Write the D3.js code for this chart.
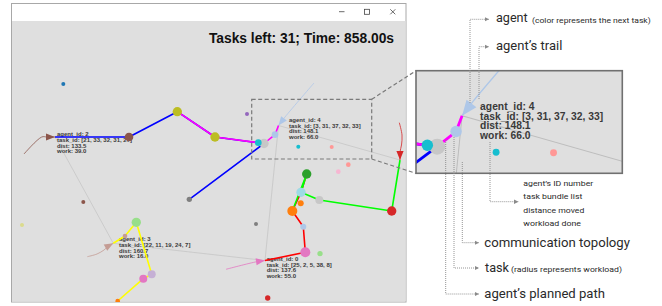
<!DOCTYPE html>
<html>
<head>
<meta charset="utf-8">
<script src="https://cdnjs.cloudflare.com/ajax/libs/d3/7.8.5/d3.min.js"></script>
<style>
  body { margin: 0; background: #fff; }
  svg { display: block; }
</style>
</head>
<body>
<svg id="svg" width="662" height="306"></svg>
<script>
(function() {
  'use strict';

  // ---- data (world units of the simulation area) ----
  var titleText = 'Tasks left: 31; Time: 858.00s';

  // tasks: position, workload, colour
  var taskX = [52.3, 236, 166.3, 204, 118, 253, 247.3, 264, 287.3, 320.7, 178.3, 295.7, 290, 308.3, 380.7, 289.7,
               281.3, 292.3, 294.3, 309, 327.3, 337.3, 245, 72.3, 11, 125.3, 114, 140.7, 132.3, 106.7, 256.7];
  var taskY = [63, 93, 90.7, 116, 116, 122.5, 121.7, 113.7, 125.7, 126, 178.3, 153, 171.3, 179, 190, 182.3,
               190, 205.7, 231.3, 232.7, 150.7, 143.7, 203, 181, 204, 201.3, 215, 253.3, 257.7, 280, 277];
  var taskWork = [1, 1, 9, 9, 8, 9, 5, 5, 1, 1, 3, 9, 9, 7, 9, 4, 10, 4, 10, 3, 2, 2, 1, 1, 1, 9, 2, 7, 7, 2, 3];
  var taskColor = ['#1f77b4', '#9467bd', '#bcbd22', '#bcbd22', '#8c564b', '#c7c7c7', '#17becf', '#aec7e8',
                   '#17becf', '#ff9896', '#7f7f7f', '#2ca02c', '#9edae5', '#c7c7c7', '#d62728', '#ff7f0e',
                   '#ff7f0e', '#aec7e8', '#e377c2', '#98df8a', '#f7b6d2', '#ff9896', '#7f7f7f', '#8c564b',
                   '#dbdb8d', '#98df8a', '#c49c94', '#c5b0d5', '#e377c2', '#ff7f0e', '#d62728'];

  // agents
  var agentIds = [0, 1, 2, 3, 4];
  var agentX = [254, 389, 44, 102.3, 267.5];
  var agentY = [239.5, 139, 116, 222.3, 104.5];
  var agentColor = ['#e377c2', '#d62728', '#8c564b', '#c49c94', '#aec7e8'];
  var pathColor = ['#ff0000', '#00ff00', '#0000ff', '#ffff00', '#ff00ff'];
  var agentTrails = [
    [[215, 248.3], [245.7, 240.7]],
    [[388.3, 101.7], [391, 114], [390.5, 124], [389, 131]],
    [[13, 133], [30.7, 116], [36, 116]],
    [[76.3, 235.7], [86, 233], [93, 229], [97.5, 225]],
    [[303, 62], [274, 96]]
  ];
  var agentPlans = [
    [18, 17, 16, 12, 11],
    [14, 13, 12, 11, 16],
    [4, 2, 3, 5, 10],
    [26, 25, 27, 28, 29],
    [7, 5, 6, 3, 2]
  ];
  var agentLabels = [
    ['agent_id: 0', 'task_id: [25, 2, 5, 38, 8]', 'dist: 137.6', 'work: 55.0'],
    null,
    ['agent_id: 2', 'task_id: [21, 33, 32, 31, 27]', 'dist: 133.5', 'work: 39.0'],
    ['agent_id: 3', 'task_id: [22, 11, 19, 24, 7]', 'dist: 160.7', 'work: 16.0'],
    ['agent_id: 4', 'task_id: [3, 31, 37, 32, 33]', 'dist: 148.1', 'work: 66.0']
  ];
  var labelX = [255.7, 0, 46, 108, 278];
  var labelY = [240.1, 0, 115.4, 220.4, 101.1];
  var commLinks = [[2, 3], [3, 0], [0, 4], [4, 1]];

  // zoomed region (world units)
  var zoomBox = [240.7, 78.3, 120, 59.7];

  // ---- layout ----
  var svg = d3.select('#svg');
  var defs = svg.append('defs');

  var x = d3.scaleLinear().domain([0, 395]).range([11, 406]);
  var y = d3.scaleLinear().domain([0, 281]).range([21, 302]);
  var r = d3.scaleLinear().domain([1, 10]).range([2, 5]);

  var line = d3.line()
    .x(function(d) { return x(d[0]); })
    .y(function(d) { return y(d[1]); });
  var trailLine = d3.line()
    .curve(d3.curveCatmullRom)
    .x(function(d) { return x(d[0]); })
    .y(function(d) { return y(d[1]); });

  defs.append('clipPath').attr('id', 'simClip')
    .append('rect').attr('x', 11).attr('y', 21).attr('width', 395).attr('height', 281);

  var inset = { x: 416, y: 70.7, w: 206.3, h: 102.6 };
  defs.append('clipPath').attr('id', 'insetClip')
    .append('rect').attr('x', inset.x).attr('y', inset.y).attr('width', inset.w).attr('height', inset.h);

  defs.append('marker')
    .attr('id', 'ptr')
    .attr('viewBox', '0 0 6 6')
    .attr('refX', 6).attr('refY', 3)
    .attr('markerUnits', 'userSpaceOnUse')
    .attr('markerWidth', 4.5).attr('markerHeight', 4.5)
    .attr('orient', 'auto')
    .append('path').attr('d', 'M0,0L6,3L0,6Z').attr('fill', '#8a8a8a');

  // box: only agent labels anchored inside it are written (null = all)
  function drawScene(g, box) {
    // communication topology
    g.selectAll('line.comm').data(commLinks).enter().append('line')
      .attr('class', 'comm')
      .attr('x1', function(d) { return x(agentX[d[0]]); })
      .attr('y1', function(d) { return y(agentY[d[0]]); })
      .attr('x2', function(d) { return x(agentX[d[1]]); })
      .attr('y2', function(d) { return y(agentY[d[1]]); })
      .attr('stroke', '#bdbdbd')
      .attr('stroke-width', 0.6);

    // trails
    g.selectAll('path.trail').data(agentIds).enter().append('path')
      .attr('class', 'trail')
      .attr('d', function(i) { return trailLine(agentTrails[i].concat([[agentX[i], agentY[i]]])); })
      .attr('fill', 'none')
      .attr('stroke', function(i) { return agentColor[i]; })
      .attr('stroke-width', 0.8);

    // agent text
    agentIds.forEach(function(i) {
      if (!agentLabels[i]) return;
      if (box && (labelX[i] < box[0] || labelX[i] > box[0] + box[2] ||
                  labelY[i] < box[1] || labelY[i] > box[1] + box[3])) return;
      var t = g.append('text')
        .attr('x', x(labelX[i]))
        .attr('y', y(labelY[i]))
        .attr('font-family', 'Liberation Sans, Arial, sans-serif')
        .attr('font-weight', 'bold')
        .attr('font-size', 6)
        .attr('fill', '#3a3a3a');
      t.selectAll('tspan').data(agentLabels[i]).enter().append('tspan')
        .attr('x', x(labelX[i]))
        .attr('dy', function(d, j) { return j ? 5.67 : 0; })
        .text(function(d) { return d; });
    });

    // planned paths
    g.selectAll('path.plan').data(agentIds).enter().append('path')
      .attr('class', 'plan')
      .attr('d', function(i) {
        var pts = [[agentX[i], agentY[i]]].concat(agentPlans[i].map(function(t) { return [taskX[t], taskY[t]]; }));
        return line(pts);
      })
      .attr('fill', 'none')
      .attr('stroke', function(i) { return pathColor[i]; })
      .attr('stroke-width', 1.6)
      .attr('stroke-linejoin', 'round');

    // tasks
    g.selectAll('circle.task').data(taskX).enter().append('circle')
      .attr('class', 'task')
      .attr('cx', function(d) { return x(d); })
      .attr('cy', function(d, i) { return y(taskY[i]); })
      .attr('r', function(d, i) { return r(taskWork[i]); })
      .attr('fill', function(d, i) { return taskColor[i]; });

    // agents as arrow heads
    g.selectAll('path.agent').data(agentIds).enter().append('path')
      .attr('class', 'agent')
      .attr('d', 'M0,0L-9,-3.6L-9,3.6Z')
      .attr('transform', function(i) {
        var tr = agentTrails[i];
        var p = tr[tr.length - 1];
        var a = Math.atan2(y(agentY[i]) - y(p[1]), x(agentX[i]) - x(p[0])) * 180 / Math.PI;
        return 'translate(' + x(agentX[i]) + ',' + y(agentY[i]) + ') rotate(' + a + ')';
      })
      .attr('fill', function(i) { return agentColor[i]; });
  }

  // window frame
  svg.append('rect')
    .attr('x', 11.5).attr('y', 3.5).attr('width', 394.5).attr('height', 298.5)
    .attr('fill', '#fff').attr('stroke', '#a8a8a8').attr('stroke-width', 1);
  svg.append('rect')
    .attr('x', 12).attr('y', 21).attr('width', 393.5).attr('height', 280.5)
    .attr('fill', '#dfdfdf');

  // title bar buttons
  var btn = svg.append('g').attr('stroke', '#444').attr('stroke-width', 0.8).attr('fill', 'none');
  btn.append('line').attr('x1', 339).attr('y1', 11.7).attr('x2', 344.5).attr('y2', 11.7);
  btn.append('rect').attr('x', 364.5).attr('y', 9.3).attr('width', 5).attr('height', 5);
  btn.append('path').attr('d', 'M390.3,9.3L395.3,14.3M395.3,9.3L390.3,14.3');

  var sim = svg.append('g').attr('clip-path', 'url(#simClip)');
  drawScene(sim, null);

  svg.append('text')
    .attr('x', 394).attr('y', 43)
    .attr('text-anchor', 'end')
    .attr('font-family', 'Liberation Sans, Arial, sans-serif')
    .attr('font-weight', 'bold')
    .attr('font-size', 13.8)
    .attr('fill', '#111')
    .text(titleText);

  // dashed zoom region + connectors
  var zx0 = x(zoomBox[0]), zy0 = y(zoomBox[1]);
  var zx1 = x(zoomBox[0] + zoomBox[2]), zy1 = y(zoomBox[1] + zoomBox[3]);
  var dash = svg.append('g')
    .attr('stroke', '#7a7a7a').attr('stroke-width', 1.2)
    .attr('stroke-dasharray', '4,2.5').attr('fill', 'none');
  dash.append('rect').attr('x', zx0).attr('y', zy0).attr('width', zx1 - zx0).attr('height', zy1 - zy0);
  dash.append('line').attr('x1', zx1).attr('y1', zy0).attr('x2', inset.x).attr('y2', inset.y);
  dash.append('line').attr('x1', zx1).attr('y1', zy1).attr('x2', inset.x).attr('y2', inset.y + inset.h);

  // inset
  svg.append('rect')
    .attr('x', inset.x).attr('y', inset.y).attr('width', inset.w).attr('height', inset.h)
    .attr('fill', '#dfdfdf');
  var k = inset.w / (zx1 - zx0);
  var zoomed = svg.append('g').attr('clip-path', 'url(#insetClip)')
    .append('g')
    .attr('transform', 'translate(' + inset.x + ',' + inset.y + ') scale(' + k + ') translate(' + (-zx0) + ',' + (-zy0) + ')');
  drawScene(zoomed, zoomBox);
  svg.append('rect')
    .attr('x', inset.x).attr('y', inset.y).attr('width', inset.w).attr('height', inset.h)
    .attr('fill', 'none').attr('stroke', '#707070').attr('stroke-width', 1.6);

  // annotation pointers
  var pointers = [
    [[470, 103], [470, 19.3], [489, 19.3]],
    [[479, 99], [479, 46.7], [489, 46.7]],
    [[490, 142], [490, 201.7], [518.5, 201.7]],
    [[462.3, 162], [462.3, 242.7], [479, 242.7]],
    [[454, 137], [454, 268], [479, 268]],
    [[445.7, 140], [445.7, 294], [479, 294]]
  ];
  svg.selectAll('path.ptr').data(pointers).enter().append('path')
    .attr('class', 'ptr')
    .attr('d', d3.line())
    .attr('fill', 'none')
    .attr('stroke', '#8a8a8a')
    .attr('stroke-width', 0.9)
    .attr('stroke-dasharray', '1,1')
    .attr('marker-end', 'url(#ptr)');

  var notes = [
    { t: 'agent', x: 496, y: 22, len: 31.7, size: 13 },
    { t: '(color represents the next task)', x: 532, y: 22.5, len: 118.7, size: 7 },
    { t: 'agent’s trail', x: 496, y: 50, len: 66.3, size: 13 },
    { t: 'agent’s ID number', x: 523.3, y: 185.7, len: 70, size: 7.8 },
    { t: 'task bundle list', x: 523.3, y: 199.2, len: 59, size: 7.8 },
    { t: 'distance moved', x: 523.3, y: 212.6, len: 61, size: 7.8 },
    { t: 'workload done', x: 523.3, y: 226, len: 57.7, size: 7.8 },
    { t: 'communication topology', x: 484.3, y: 246.7, len: 145.7, size: 13 },
    { t: 'task', x: 485, y: 272, len: 24, size: 13 },
    { t: '(radius represents workload)', x: 511, y: 272, len: 111, size: 7 },
    { t: 'agent’s planned path', x: 484.3, y: 298, len: 120.7, size: 13 }
  ];
  svg.selectAll('text.note').data(notes).enter().append('text')
    .attr('class', 'note')
    .attr('x', function(d) { return d.x; })
    .attr('y', function(d) { return d.y; })
    .attr('font-family', 'Roboto, sans-serif')
    .attr('font-size', function(d) { return d.size; })
    .attr('textLength', function(d) { return d.len; })
    .attr('lengthAdjust', 'spacingAndGlyphs')
    .attr('fill', '#2a2a2a')
    .text(function(d) { return d.t; });
}());
</script>
</body>
</html>
